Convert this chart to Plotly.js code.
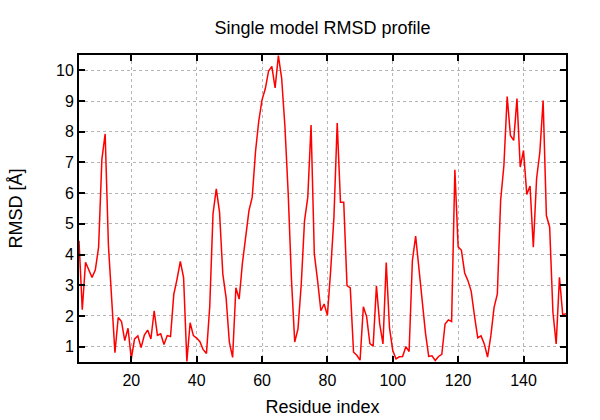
<!DOCTYPE html>
<html>
<head>
<meta charset="utf-8">
<script src="https://cdn.plot.ly/plotly-3.0.1.min.js"></script>
<style>html,body{margin:0;padding:0;background:#fff}#chart{width:600px;height:420px}</style>
</head>
<body>
<div id="chart"></div>
<script>
const residueStart = 4;
const rmsd = [
  4.45, 2.2, 3.75, 3.5, 3.25, 3.5, 4.24, 7.1, 7.93, 4.3,
  2.55, 0.8, 1.95, 1.82, 1.2, 1.6, 0.6, 1.25, 1.35, 0.97,
  1.38, 1.54, 1.25, 2.17, 1.37, 1.42, 1.07, 1.36, 1.33, 2.7,
  3.2, 3.78, 3.25, 0.52, 1.78, 1.36, 1.28, 1.16, 0.9, 0.78,
  2.3, 5.33, 6.14, 5.38, 3.37, 2.6, 1.15, 0.65, 2.92, 2.55,
  3.72, 4.5, 5.43, 5.87, 7.35, 8.35, 9.04, 9.4, 9.98, 10.13,
  9.43, 10.48, 9.75, 8.18, 6.0, 3.2, 1.15, 1.58, 3.04, 5.1,
  5.87, 8.22, 4.02, 3.15, 2.17, 2.39, 2.02, 3.48, 5.22, 8.28,
  5.7, 5.7, 2.99, 2.91, 0.82, 0.72, 0.56, 2.3, 1.98, 1.1,
  1.02, 2.98, 1.74, 1.09, 3.74, 1.61, 0.87, 0.6, 0.67, 0.68,
  1.0, 0.84, 3.8, 4.6, 3.5, 2.4, 1.45, 0.68, 0.7, 0.55,
  0.68, 0.75, 1.74, 1.87, 1.82, 6.76, 4.25, 4.14, 3.4, 3.15,
  2.8, 2.0, 1.29, 1.35, 1.09, 0.66, 1.35, 2.28, 2.72, 5.76,
  6.9, 9.15, 7.88, 7.72, 9.08, 6.85, 7.39, 5.96, 6.23, 4.24,
  6.47, 7.34, 9.02, 5.27, 4.89, 2.12, 1.09, 3.26, 2.04, 2.07
];
const residues = rmsd.map((_, i) => residueStart + i);
const xTicks = [20, 40, 60, 80, 100, 120, 140];
const yTicks = [1, 2, 3, 4, 5, 6, 7, 8, 9, 10];

const font = 'Liberation Sans, Arial, sans-serif';
const axisCommon = {
  showline: true, linecolor: '#000', linewidth: 2, mirror: 'ticks',
  ticks: 'inside', ticklen: 6, tickwidth: 2, tickcolor: '#000',
  showgrid: true, gridcolor: '#b4b4b4', griddash: 'dot', gridwidth: 1,
  zeroline: false, tickfont: {family: font, size: 16, color: '#000'}
};

Plotly.newPlot('chart', [{
  x: residues, y: rmsd, type: 'scatter', mode: 'lines',
  line: {color: '#ff0000', width: 1.5}, hoverinfo: 'skip'
}], {
  width: 600, height: 420,
  margin: {l: 79, r: 34, t: 55, b: 58},
  paper_bgcolor: '#fff', plot_bgcolor: '#fff',
  showlegend: false,
  title: {text: 'Single model RMSD profile', font: {family: font, size: 18, color: '#000'},
          x: 0.5, xref: 'paper', y: 1 - 28/420, yref: 'container', yanchor: 'middle'},
  xaxis: Object.assign({}, axisCommon, {
    range: [4, 153], tickvals: xTicks, ticktext: xTicks.map(String), ticklabelstandoff: 3,
    title: {text: 'Residue index', font: {family: font, size: 18, color: '#000'}, standoff: 12}
  }),
  yaxis: Object.assign({}, axisCommon, {
    range: [0.5, 10.5], tickvals: yTicks, ticktext: yTicks.map(String),
    title: {text: 'RMSD [Å]', font: {family: font, size: 18, color: '#000'}, standoff: 29}
  })
}, {staticPlot: true, displayModeBar: false});
</script>
</body>
</html>
